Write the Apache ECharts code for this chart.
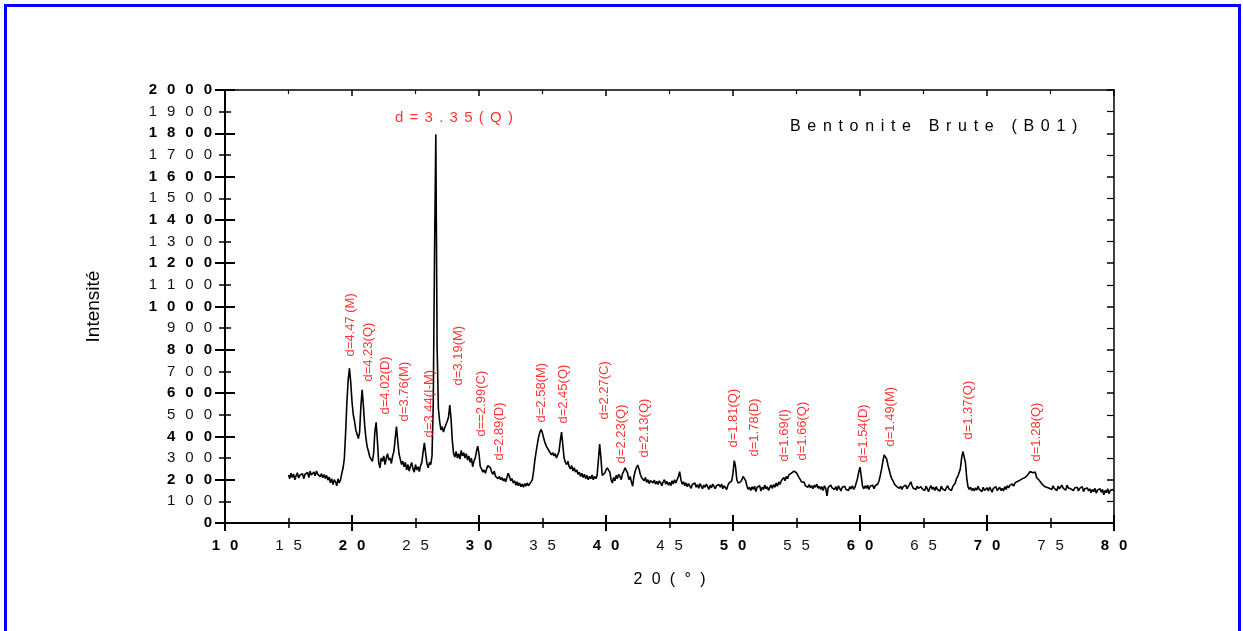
<!DOCTYPE html>
<html>
<head>
<meta charset="utf-8">
<title>Bentonite Brute (B01)</title>
<script src="https://cdn.jsdelivr.net/npm/echarts@6/dist/echarts.min.js"></script>
<style>
  html, body { margin: 0; padding: 0; background: #ffffff; }
  #chart { width: 1243px; height: 631px; }
</style>
</head>
<body>
<div id="chart"></div>
<script>
// XRD pattern of raw bentonite, 2θ from 15° to 80° in 0.1° steps
const thetaStart = 15;
const thetaStep = 0.1;
const intensity = [
  222, 205, 230, 210, 226, 200, 218, 232, 208, 221,   // 15
  212, 228, 204, 225, 216, 234, 210, 240, 222, 230,   // 16
  236, 218, 240, 226, 232, 214, 228, 209, 224, 206,   // 17
  220, 198, 212, 186, 205, 178, 200, 190, 172, 204,   // 18
  185, 200, 230, 255, 300, 420, 560, 660, 715, 650,   // 19
  560, 500, 470, 430, 410, 390, 420, 540, 615, 540,   // 20
  450, 390, 350, 330, 305, 295, 285, 320, 420, 465,   // 21
  380, 280, 255, 300, 285, 310, 270, 300, 320, 290,   // 22
  300, 275, 310, 330, 390, 445, 380, 320, 295, 270,   // 23
  285, 260, 280, 245, 270, 240, 262, 280, 250, 235,   // 24
  270, 245, 260, 238, 265, 280, 330, 370, 320, 275,   // 25
  255, 280, 270, 310, 560, 1250, 1795, 820, 530, 470, // 26
  430, 445, 420, 440, 455, 470, 490, 545, 480, 380,   // 27
  320, 305, 330, 300, 320, 295, 335, 310, 325, 300,   // 28
  320, 290, 310, 280, 300, 260, 285, 300, 330, 355,   // 29
  320, 260, 250, 235, 245, 230, 250, 265, 272, 255,   // 30
  235, 225, 240, 215, 220, 205, 215, 200, 210, 195,   // 31
  205, 190, 210, 230, 215, 195, 205, 185, 195, 175,   // 32
  190, 172, 185, 168, 180, 165, 182, 170, 185, 172,   // 33
  180, 190, 200, 240, 290, 330, 365, 400, 420, 432,   // 34
  415, 390, 370, 355, 345, 335, 330, 315, 325, 310,   // 35
  320, 300, 305, 330, 380, 420, 360, 300, 280, 270,   // 36
  285, 260, 250, 265, 240, 255, 235, 245, 225, 235,   // 37
  215, 230, 210, 225, 205, 220, 200, 215, 205, 222,   // 38
  200, 215, 205, 220, 290, 365, 300, 220, 215, 230,   // 39
  245, 255, 262, 235, 200, 185, 210, 195, 220, 205,   // 40
  225, 215, 200, 228, 240, 255, 262, 230, 200, 215,   // 41
  190, 170, 215, 240, 255, 268, 250, 225, 210, 205,   // 42
  195, 210, 188, 200, 182, 196, 205, 185, 198, 180,   // 43
  192, 178, 195, 185, 172, 190, 200, 180, 192, 175,   // 44
  188, 172, 195, 180, 200, 185, 190, 215, 237, 200,   // 45
  180, 190, 172, 185, 168, 182, 175, 160, 178, 170,   // 46
  185, 165, 178, 160, 182, 170, 158, 175, 165, 180,   // 47
  168, 155, 175, 162, 180, 170, 158, 172, 163, 178,   // 48
  165, 180, 158, 172, 165, 155, 175, 185, 178, 195,   // 49
  230, 288, 260, 200, 185, 180, 190, 200, 215, 222,   // 50
  195, 170, 155, 165, 150, 168, 155, 170, 145, 165,   // 51
  160, 172, 148, 165, 155, 175, 158, 168, 150, 165,   // 52
  175, 160, 178, 165, 185, 170, 190, 178, 195, 200,   // 53
  210, 195, 215, 205, 222, 218, 230, 225, 240, 245,   // 54
  232, 225, 210, 200, 190, 182, 188, 172, 180, 165,   // 55
  178, 162, 172, 158, 175, 165, 180, 160, 170, 155,   // 56
  168, 150, 172, 160, 125, 165, 158, 175, 162, 170,   // 57
  155, 168, 150, 172, 160, 148, 165, 158, 170, 155,   // 58
  162, 150, 168, 158, 172, 155, 165, 185, 205, 235,   // 59
  258, 215, 170, 158, 172, 160, 175, 155, 170, 162,   // 60
  175, 158, 172, 165, 180, 195, 220, 250, 285, 315,   // 61
  320, 295, 268, 245, 222, 205, 195, 180, 172, 168,   // 62
  175, 160, 170, 155, 168, 162, 175, 158, 165, 178,   // 63
  190, 172, 160, 168, 155, 170, 160, 152, 168, 158,   // 64
  165, 150, 170, 158, 145, 162, 172, 155, 165, 150,   // 65
  168, 155, 160, 148, 170, 158, 165, 150, 162, 172,   // 66
  158, 165, 150, 168, 160, 185, 205, 215, 222, 250,   // 67
  300, 330, 335, 280, 210, 168, 155, 165, 150, 160,   // 68
  148, 162, 152, 170, 155, 160, 145, 165, 150, 158,   // 69
  162, 148, 165, 155, 142, 160, 152, 168, 150, 158,   // 70
  165, 150, 160, 148, 168, 155, 172, 162, 175, 168,   // 71
  180, 170, 185, 178, 192, 185, 198, 190, 205, 200,   // 72
  210, 205, 222, 230, 238, 245, 232, 225, 235, 210,   // 73
  205, 198, 190, 182, 175, 170, 178, 165, 172, 160,   // 74
  168, 155, 172, 160, 165, 150, 170, 158, 162, 175,   // 75
  160, 168, 152, 175, 162, 170, 158, 166, 150, 162,   // 76
  155, 165, 148, 160, 152, 168, 145, 158, 150, 162,   // 77
  148, 158, 140, 155, 145, 160, 138, 152, 145, 158,   // 78
  142, 155, 130, 150, 140, 158, 135, 150, 142, 155,   // 79
  148                                                 // 80
];

// Axis tick labels
const xTickValues = [10, 15, 20, 25, 30, 35, 40, 45, 50, 55, 60, 65, 70, 75, 80];
const xTickLabels = ['10', '15', '20', '25', '30', '35', '40', '45', '50', '55', '60', '65', '70', '75', '80'];
const yTickValues = [0, 100, 200, 300, 400, 500, 600, 700, 800, 900, 1000,
                     1100, 1200, 1300, 1400, 1500, 1600, 1700, 1800, 1900, 2000];
const yTickLabels = ['0', '100', '200', '300', '400', '500', '600', '700', '800', '900', '1000',
                     '1100', '1200', '1300', '1400', '1500', '1600', '1700', '1800', '1900', '2000'];

// Reflection annotations: d-spacing (Å) and phase, placed at [2θ, intensity]
const peakText = ['d=4.47 (M)', 'd=4.23(Q)', 'd=4.02(D)', 'd=3.76(M)', 'd=3.44(I-M)', 'd=3.19(M)',
                  'd==2.99(C)', 'd=2.89(D)', 'd=2.58(M)', 'd=2.45(Q)', 'd=2.27(C)', 'd=2.23(Q)',
                  'd=2.13(Q)', 'd=1.81(Q)', 'd=1.78(D)', 'd=1.69(I)', 'd=1.66(Q)', 'd=1.54(D)',
                  'd=1.49(M)', 'd=1.37(Q)', 'd=1.28(Q)'];
const peakTheta = [19.95, 21.37, 22.71, 24.13, 26.10, 28.39,
                   30.20, 31.62, 34.93, 36.66, 39.89, 41.23,
                   43.04, 50.05, 51.70, 54.06, 55.49, 60.30,
                   62.43, 68.57, 73.97];
const peakLevel = [767, 651, 499, 467, 393, 633,
                   397, 286, 462, 457, 476, 273,
                   300, 346, 305, 282, 286, 277,
                   351, 383, 282];

// Strongest quartz reflection, labelled horizontally above its peak
const mainPeakText = 'd=3.35(Q)';
const mainPeakAt = [28.07, 1871];

const sampleName = 'Bentonite Brute (B01)';
const xAxisTitle = '20(°)';
const yAxisTitle = 'Intensité';

// ---------------------------------------------------------------------------

const FONT = '"Liberation Sans", Arial, Helvetica, sans-serif';
const WIDE = '\u2002\u2006';     // wide letter spacing for tick labels
const MID = '\u2004\u200A';      // medium letter spacing for titles

function spaced(str, sep) {
  return Array.from(str).join(sep);
}

const trace = intensity.map((v, i) => [+(thetaStart + i * thetaStep).toFixed(1), v]);
const peakData = peakText.map((t, i) => [peakTheta[i], peakLevel[i], t]);

function xLabel(v) {
  const i = xTickValues.indexOf(v);
  if (i < 0) return '';
  const s = spaced(xTickLabels[i], WIDE);
  return v % 10 === 0 ? '{b|' + s + '}' : '{n|' + s + '}';
}
function yLabel(v) {
  const i = yTickValues.indexOf(v);
  if (i < 0) return '';
  const s = spaced(yTickLabels[i], WIDE);
  return v % 200 === 0 ? '{b|' + s + '}' : '{n|' + s + '}';
}
const tickRich = {
  b: { fontFamily: FONT, fontSize: 15, fontWeight: 'bold', color: '#000' },
  n: { fontFamily: FONT, fontSize: 15, fontWeight: 'normal', color: '#111' }
};

const axisStroke = { color: '#000', width: 2 };
const frameStroke = { color: '#000', width: 1.5 };

const chart = echarts.init(document.getElementById('chart'), null, { renderer: 'canvas' });

chart.setOption({
  backgroundColor: '#ffffff',
  animation: false,
  title: {
    text: spaced(sampleName, MID),
    left: 785,
    top: 114,
    textStyle: { fontFamily: FONT, fontSize: 16, fontWeight: 'normal', color: '#000' }
  },
  graphic: [{
    type: 'rect',
    silent: true,
    z: 100,
    shape: { x: 5.5, y: 5.5, width: 1234, height: 700 },
    style: { fill: 'none', stroke: '#0000ff', lineWidth: 3 }
  }],
  grid: { left: 225, top: 90, width: 889, height: 433, containLabel: false },
  xAxis: [
    { // bottom axis line, ticks pointing out
      type: 'value', position: 'bottom', min: 10, max: 80, interval: 10,
      axisLine: { show: true, onZero: false, lineStyle: axisStroke },
      axisTick: { show: true, inside: false, length: 8, lineStyle: { color: '#000', width: 2 } },
      minorTick: { show: true, splitNumber: 2, length: 5, lineStyle: { color: '#000', width: 1.5 } },
      axisLabel: { show: false }, splitLine: { show: false }
    },
    { // bottom ticks pointing in
      type: 'value', position: 'bottom', min: 10, max: 80, interval: 10,
      axisLine: { show: false, onZero: false },
      axisTick: { show: true, inside: true, length: 8, lineStyle: { color: '#000', width: 2 } },
      minorTick: { show: true, splitNumber: 2, length: 5, lineStyle: { color: '#000', width: 1.5 } },
      axisLabel: { show: false }, splitLine: { show: false }
    },
    { // bottom labels every 5°
      type: 'value', position: 'bottom', min: 10, max: 80, interval: 5,
      axisLine: { show: false, onZero: false }, axisTick: { show: false },
      axisLabel: { show: true, margin: 15, formatter: xLabel, rich: tickRich },
      splitLine: { show: false },
      name: spaced(xAxisTitle, MID + '\u2006'), nameLocation: 'middle', nameGap: 49,
      nameTextStyle: { fontFamily: FONT, fontSize: 16, color: '#000' }
    },
    { // top frame
      type: 'value', position: 'top', min: 10, max: 80, interval: 10,
      axisLine: { show: true, onZero: false, lineStyle: frameStroke },
      axisTick: { show: true, inside: true, length: 6, lineStyle: { color: '#000', width: 1.5 } },
      minorTick: { show: true, splitNumber: 2, length: 4, lineStyle: { color: '#000', width: 1.2 } },
      axisLabel: { show: false }, splitLine: { show: false }
    }
  ],
  yAxis: [
    { // left axis line, ticks pointing out
      type: 'value', position: 'left', min: 0, max: 2000, interval: 200,
      axisLine: { show: true, onZero: false, lineStyle: axisStroke },
      axisTick: { show: true, inside: false, length: 10, lineStyle: { color: '#000', width: 2 } },
      minorTick: { show: true, splitNumber: 2, length: 6, lineStyle: { color: '#000', width: 1.5 } },
      axisLabel: { show: false }, splitLine: { show: false }
    },
    { // left ticks pointing in
      type: 'value', position: 'left', min: 0, max: 2000, interval: 200,
      axisLine: { show: false, onZero: false },
      axisTick: { show: true, inside: true, length: 10, lineStyle: { color: '#000', width: 2 } },
      minorTick: { show: true, splitNumber: 2, length: 6, lineStyle: { color: '#000', width: 1.5 } },
      axisLabel: { show: false }, splitLine: { show: false }
    },
    { // left labels every 100
      type: 'value', position: 'left', min: 0, max: 2000, interval: 100,
      axisLine: { show: false, onZero: false }, axisTick: { show: false },
      axisLabel: { show: true, margin: 13, formatter: yLabel, rich: tickRich },
      splitLine: { show: false },
      name: yAxisTitle, nameLocation: 'middle', nameGap: 122, nameRotate: 90,
      nameTextStyle: { fontFamily: FONT, fontSize: 19, color: '#000' }
    },
    { // right frame
      type: 'value', position: 'right', min: 0, max: 2000, interval: 200,
      axisLine: { show: true, onZero: false, lineStyle: frameStroke },
      axisTick: { show: true, inside: true, length: 7, lineStyle: { color: '#000', width: 1.5 } },
      minorTick: { show: true, splitNumber: 2, length: 7, lineStyle: { color: '#000', width: 1.2 } },
      axisLabel: { show: false }, splitLine: { show: false }
    }
  ],
  series: [
    {
      name: sampleName,
      type: 'line',
      xAxisIndex: 0, yAxisIndex: 0,
      data: trace,
      showSymbol: false, symbol: 'none',
      lineStyle: { color: '#000', width: 1.6 },
      z: 5
    },
    {
      name: 'reflections',
      type: 'scatter',
      xAxisIndex: 0, yAxisIndex: 0,
      data: peakData,
      symbol: 'circle', symbolSize: 1,
      itemStyle: { color: 'rgba(0,0,0,0)' },
      label: {
        show: true,
        position: [0, 0],
        rotate: 90,
        align: 'left',
        verticalAlign: 'middle',
        formatter: p => p.data[2],
        fontFamily: FONT, fontSize: 13, color: '#ff0000'
      },
      z: 6
    },
    {
      name: 'main reflection',
      type: 'scatter',
      xAxisIndex: 0, yAxisIndex: 0,
      data: [[mainPeakAt[0], mainPeakAt[1], mainPeakText]],
      symbol: 'circle', symbolSize: 1,
      itemStyle: { color: 'rgba(0,0,0,0)' },
      label: {
        show: true,
        position: [0, 0],
        align: 'center',
        verticalAlign: 'middle',
        formatter: p => spaced(p.data[2], MID),
        fontFamily: FONT, fontSize: 15, color: '#ff0000'
      },
      z: 6
    }
  ]
});
</script>
</body>
</html>
